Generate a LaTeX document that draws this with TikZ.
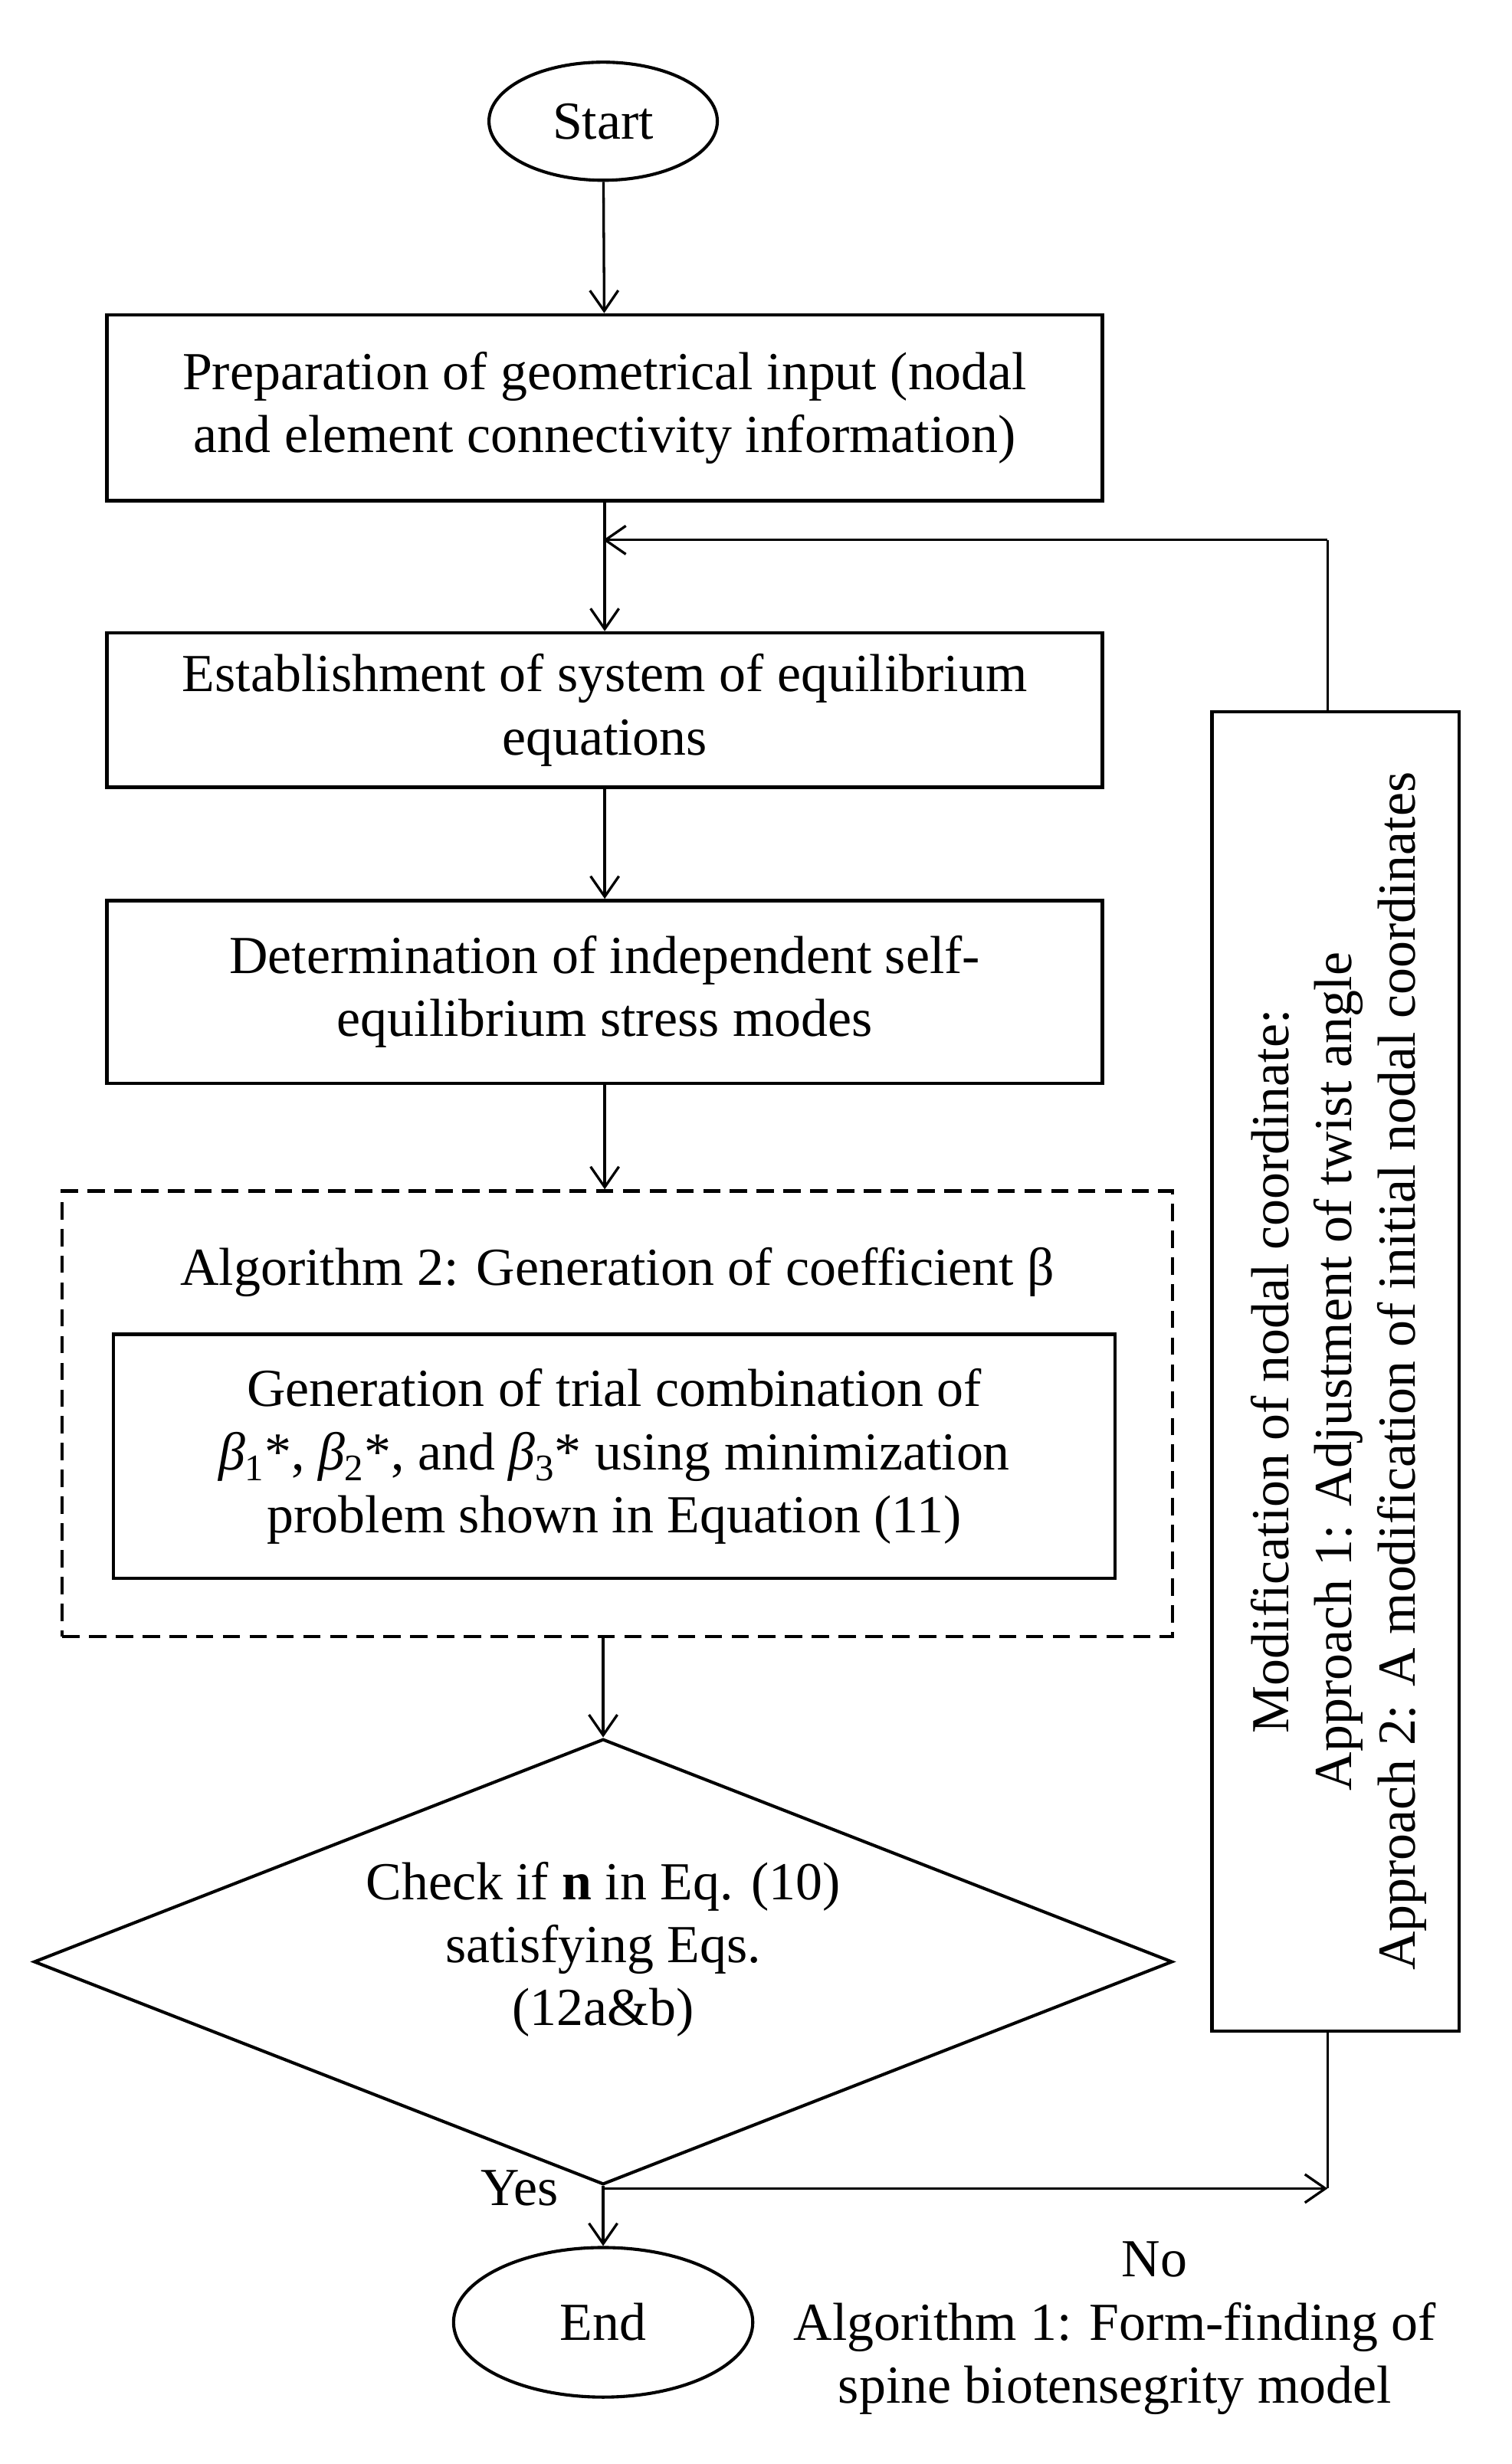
\documentclass[tikz,border=0pt]{standalone}
\usepackage{fontspec}
\setmainfont{Liberation Serif}
\usetikzlibrary{shapes.geometric,arrows.meta}
\begin{document}
\begin{tikzpicture}[x=1pt,y=-1pt,
  every node/.style={font=\fontsize{34}{40}\selectfont},
  box/.style={draw,line width=2.2pt,align=center,inner sep=0pt},
  arr/.style={line width=1.6pt,-{Straight Barb[length=13pt,width=18pt,line width=1.6pt]}},
  ln/.style={line width=1.6pt}]
\useasboundingbox (0,0) rectangle (960,1565);
\node[draw,ellipse,line width=2pt,minimum width=145pt,minimum height=75pt] (start) at (383,77) {Start};
\node[box,minimum width=632pt,minimum height=118pt] (b1) at (384,259) {Preparation of geometrical input (nodal\\and element connectivity information)};
\node[box,minimum width=632pt,minimum height=98pt] (b2) at (384,451) {Establishment of system of equilibrium\\equations};
\node[box,minimum width=632pt,minimum height=116pt] (b3) at (384,630) {Determination of independent self-\\equilibrium stress modes};
\node[draw,dash pattern=on 11pt off 6pt,line width=2.2pt,minimum width=705pt,minimum height=283pt] (dash) at (392,898) {};
\node (alg2) at (392,808) {Algorithm 2: Generation of coefficient β};
\node[box,minimum width=636pt,minimum height=155pt] (b4) at (390,925) {Generation of trial combination of\\\textit{β}\textsubscript{1}*, \textit{β}\textsubscript{2}*, and \textit{β}\textsubscript{3}* using minimization\\problem shown in Equation (11)};
\node[draw,diamond,line width=2pt,aspect=2.55,minimum width=723pt,minimum height=283pt,inner sep=0pt] (dia) at (383,1246) {};
\node[align=center] (diat) at (383,1238) {Check if \textbf{n} in Eq. (10)\\satisfying Eqs.\\(12a\&b)};
\node[draw,ellipse,line width=2pt,minimum width=190pt,minimum height=95pt] (end) at (383,1475) {End};
\node[box,minimum width=157pt,minimum height=838pt] (mod) at (848,871) {};
\node[rotate=90,align=center] (modt) at (850,871) {Modification of nodal coordinate:\\Approach 1: Adjustment of twist angle\\Approach 2: A modification of initial nodal coordinates};
\node (yes) at (330,1390) {Yes};
\node (no) at (733,1435) {No};
\node[align=center] (cap) at (708,1498) {Algorithm 1: Form-finding of\\spine biotensegrity model};
\coordinate (fb) at (383,343);
\coordinate (fbr) at (843,343);
\coordinate (dy) at (383,1390);
\coordinate (my) at (843,1390);
\draw[arr] (start) -- (b1);
\draw[arr] (b1) -- (b2);
\draw[arr] (b2) -- (b3);
\draw[arr] (b3) -- (dash.north -| b3);
\draw[arr] (dash.south -| dia) -- (dia.north);
\draw[arr] (dia.south) -- (end);
\draw[ln] (mod.north -| fbr) -- (fbr);
\draw[arr] (fbr) -- (fb);
\draw[arr] (dy) -- (my);
\draw[ln] (mod.south -| my) -- (my);
\end{tikzpicture}
\end{document}
